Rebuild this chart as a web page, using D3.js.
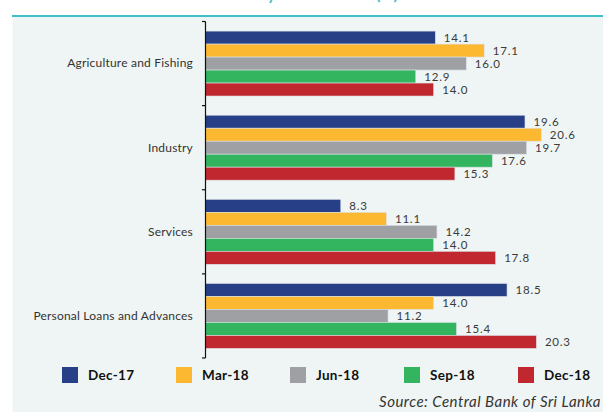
<!DOCTYPE html>
<html>
<head>
<meta charset="utf-8">
<script src="https://cdn.jsdelivr.net/npm/d3@7"></script>
<style>
  html, body { margin: 0; padding: 0; background: #ffffff; }
  svg { display: block; }
</style>
</head>
<body>
<div id="chart"></div>
<script>
const categories = ["Agriculture and Fishing", "Industry", "Services", "Personal Loans and Advances"];
const seriesNames = ["Dec-17", "Mar-18", "Jun-18", "Sep-18", "Dec-18"];
const seriesColors = ["#263f86", "#fdb832", "#9fa0a4", "#33b45f", "#c1272f"];
const dec17 = [14.1, 19.6, 8.3, 18.5];
const mar18 = [17.1, 20.6, 11.1, 14.0];
const jun18 = [16.0, 19.7, 14.2, 11.2];
const sep18 = [12.9, 17.6, 14.0, 15.4];
const dec18 = [14.0, 15.3, 17.8, 20.3];
const seriesValues = [dec17, mar18, jun18, sep18, dec18];
const titleText = "Credit Growth by Main Sectors (%)";
const sourceText = "Source: Central Bank of Sri Lanka";

const W = 603, H = 412;
const svg = d3.select("#chart").append("svg").attr("width", W).attr("height", H);
const font = "'Lato', 'DejaVu Sans', sans-serif";

// panel background
svg.append("rect").attr("x", 12.5).attr("y", 16).attr("width", W - 12.5).attr("height", H - 16).attr("fill", "#eff5f4");
svg.append("line").attr("x1", 12).attr("x2", W).attr("y1", 16).attr("y2", 16)
  .attr("stroke", "#3fbfca").attr("stroke-width", 2);

// clipped title (only descenders visible, as in the reference)
svg.append("text").attr("x", 398).attr("y", -0.5).attr("text-anchor", "end")
  .attr("font-family", font).attr("font-size", 16).attr("font-weight", "bold")
  .attr("fill", "#3fbfca").text(titleText);

const x0 = 205.5;
const x = d3.scaleLinear().domain([0, 20.6]).range([x0, x0 + 20.6 * 16.3]);
const y = d3.scaleBand().domain(categories).range([21.5, 358]).paddingInner(0.228).paddingOuter(0.114);
const ys = d3.scaleBand().domain(seriesNames).range([0, y.bandwidth()]);

const rows = [];
categories.forEach((c, i) => {
  seriesNames.forEach((s, j) => rows.push({ c, s, j, v: seriesValues[j][i] }));
});

const g = svg.append("g");
g.selectAll("rect.bar").data(rows).enter().append("rect")
  .attr("class", "bar")
  .attr("x", x(0))
  .attr("y", d => y(d.c) + ys(d.s))
  .attr("width", d => x(d.v) - x(0))
  .attr("height", ys.bandwidth())
  .attr("fill", d => seriesColors[d.j])
  .attr("stroke", "#dde3ea").attr("stroke-width", 0.6);

g.selectAll("text.val").data(rows).enter().append("text")
  .attr("class", "val")
  .attr("x", d => x(d.v) + 8.5)
  .attr("y", d => y(d.c) + ys(d.s) + ys.bandwidth() / 2)
  .attr("dy", "0.36em")
  .attr("font-family", font).attr("font-size", 11.5).attr("letter-spacing", 0.8)
  .attr("fill", "#3a3a3a")
  .text(d => d.v.toFixed(1));

// axis with tick boundaries between categories
const axisG = svg.append("g").attr("transform", `translate(${x0},0)`);
const yAxis = d3.axisLeft(y).tickSize(0).tickPadding(12.5);
axisG.call(yAxis);
axisG.select(".domain").remove();
axisG.selectAll("text").attr("font-family", font).attr("font-size", 12).attr("letter-spacing", 0.2).attr("fill", "#333");
const r = y.range();
const bounds = d3.range(categories.length + 1).map(i => r[0] + i * y.step());
axisG.append("line").attr("x1", 0).attr("x2", 0).attr("y1", r[0]).attr("y2", r[1])
  .attr("stroke", "#111").attr("stroke-width", 1.2);
axisG.selectAll("line.bt").data(bounds).enter().append("line").attr("class", "bt")
  .attr("x1", -3.5).attr("x2", 0).attr("y1", d => d).attr("y2", d => d)
  .attr("stroke", "#111").attr("stroke-width", 1.2);

// legend
const lg = svg.append("g");
const lx = d3.scalePoint().domain(seriesNames).range([62, 518]);
seriesNames.forEach((s, j) => {
  lg.append("rect").attr("x", lx(s)).attr("y", 367).attr("width", 16).attr("height", 16).attr("fill", seriesColors[j]);
  lg.append("text").attr("x", lx(s) + 26).attr("y", 375).attr("dy", "0.36em")
    .attr("font-family", font).attr("font-size", 13.5).attr("font-weight", "bold")
    .attr("letter-spacing", 0.3)
    .attr("fill", "#111").text(s);
});

svg.append("text").attr("x", 601).attr("y", 407).attr("text-anchor", "end")
  .attr("font-family", font).attr("font-size", 15).attr("font-style", "italic")
  .attr("letter-spacing", 0.5)
  .attr("fill", "#333").text(sourceText);
</script>
</body>
</html>
